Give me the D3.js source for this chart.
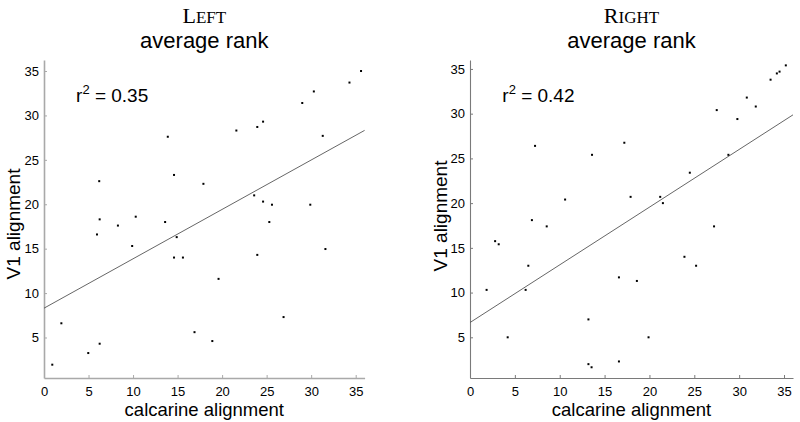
<!DOCTYPE html>
<html>
<head>
<meta charset="utf-8">
<script src="https://cdn.jsdelivr.net/npm/d3@7"></script>
<style>
  html, body { margin: 0; padding: 0; background: #fff; }
  svg { display: block; }
</style>
</head>
<body>
<svg id="chart" width="800" height="422"></svg>
<script>
// ---- data ----
const leftX  = [35.6, 34.3, 30.3, 29.0, 24.6, 23.95, 21.6, 13.9, 31.3, 6.2, 14.6, 17.9, 23.6, 24.6, 25.6, 29.9,
                10.3, 6.25, 8.3, 13.6, 5.95, 14.9, 25.3, 9.9, 14.6, 15.6, 23.95, 31.6, 19.6, 1.95, 26.9, 16.9,
                18.9, 6.25, 4.97, 0.93];
const leftY  = [35.0, 33.7, 32.7, 31.4, 29.3, 28.7, 28.3, 27.6, 27.7, 22.6, 23.3, 22.3, 21.0, 20.3, 19.95, 19.95,
                18.6, 18.3, 17.6, 18.0, 16.6, 16.3, 18.0, 15.3, 14.0, 14.0, 14.3, 14.96, 11.6, 6.6, 7.3, 5.6,
                4.6, 4.3, 3.25, 1.94];
const rightX = [35.2, 34.5, 34.2, 33.5, 30.85, 27.5, 31.85, 29.8, 7.25, 17.2, 13.6, 28.8, 24.5, 10.6, 17.9, 21.2,
                21.5, 6.9, 8.55, 27.2, 2.8, 3.2, 6.5, 23.9, 25.2, 16.6, 18.6, 1.85, 6.2, 13.2, 4.2, 19.9,
                13.2, 13.55, 16.6];
const rightY = [35.4, 34.7, 34.5, 33.8, 31.8, 30.4, 30.8, 29.4, 26.4, 26.75, 25.4, 25.4, 23.4, 20.4, 20.7, 20.7,
                20.0, 18.1, 17.4, 17.4, 15.75, 15.4, 13.0, 14.0, 13.0, 11.7, 11.3, 10.3, 10.3, 7.0, 5.0, 5.0,
                2.0, 1.65, 2.3];
const fitIntercept = [8.3, 6.65];
const fitSlope     = [0.556, 0.645];
const rSquared     = ["0.35", "0.42"];
const titleWords   = ["Left", "Right"];
const subTitle     = "average rank";
const xTicks = [0, 5, 10, 15, 20, 25, 30, 35];
const yTicks = [5, 10, 15, 20, 25, 30, 35];
const xLabel = "calcarine alignment";
const yLabel = "V1 alignment";

// ---- layout ----
const svg = d3.select("#chart");
const panels = [
  { xs: leftX,  ys: leftY,  x0: 44,  x1: 364.6, yDom: [0.44, 36.24], axisColor: "#a9a9a9", axisW: 1.6, ylabX: 13,  ylabY: 224 },
  { xs: rightX, ys: rightY, x0: 470, x1: 793,   yDom: [0.45, 36.0],  axisColor: "#7a7a7a", axisW: 1.1, ylabX: 440, ylabY: 216 }
];
const yTop = 60, yBot = 378;
const sans = "'Liberation Sans', Arial, sans-serif";
const serif = "'Liberation Serif', 'Times New Roman', serif";

panels.forEach((p, i) => {
  const x = d3.scaleLinear().domain([0, 36]).range([p.x0, p.x1]);
  const y = d3.scaleLinear().domain(p.yDom).range([yBot, yTop]);
  const g = svg.append("g");

  // axes
  const xAxis = d3.axisBottom(x).tickValues(xTicks).tickSizeInner(-3).tickSizeOuter(0).tickPadding(9);
  const yAxis = d3.axisLeft(y).tickValues(yTicks).tickSizeInner(-3).tickSizeOuter(0).tickPadding(5);
  const gx = g.append("g").attr("transform", `translate(0,${yBot})`).call(xAxis);
  const gy = g.append("g").attr("transform", `translate(${p.x0},0)`).call(yAxis);
  [gx, gy].forEach(a => {
    a.select(".domain").attr("stroke", p.axisColor).attr("stroke-width", p.axisW);
    a.selectAll(".tick line").attr("stroke", p.axisColor).attr("stroke-width", 1);
    a.selectAll(".tick text").attr("fill", "#000").attr("font-family", sans).attr("font-size", 13);
  });

  // regression line
  const b0 = fitIntercept[i], b1 = fitSlope[i];
  g.append("line")
    .attr("x1", x(0)).attr("y1", y(b0))
    .attr("x2", x(36)).attr("y2", y(b0 + b1 * 36))
    .attr("stroke", "#555").attr("stroke-width", 0.9);

  // points
  g.selectAll("rect.pt").data(p.xs.map((v, k) => [v, p.ys[k]])).enter()
    .append("rect").attr("class", "pt")
    .attr("x", d => x(d[0]) - 1).attr("y", d => y(d[1]) - 1)
    .attr("width", 2).attr("height", 2).attr("fill", "#000");

  // r^2 annotation
  const t = g.append("text").attr("x", x(3.6)).attr("y", 102)
    .attr("font-family", sans).attr("font-size", 19).attr("fill", "#000");
  t.append("tspan").text("r");
  t.append("tspan").attr("font-size", 13).attr("dy", -8).text("2");
  t.append("tspan").attr("dy", 8).text(" = " + rSquared[i]);

  // titles
  const cx = (p.x0 + p.x1) / 2;
  const word = titleWords[i];
  const tt = g.append("text").attr("x", cx).attr("y", 23).attr("text-anchor", "middle")
    .attr("font-family", serif).attr("fill", "#000");
  tt.append("tspan").attr("font-size", 22).text(word[0].toUpperCase());
  tt.append("tspan").attr("font-size", 17).text(word.slice(1).toUpperCase());
  g.append("text").attr("x", cx).attr("y", 48).attr("text-anchor", "middle")
    .attr("font-family", sans).attr("font-size", 22).attr("fill", "#000").text(subTitle);

  // axis labels
  g.append("text").attr("x", cx).attr("y", 416).attr("text-anchor", "middle")
    .attr("font-family", sans).attr("font-size", 18.5).attr("fill", "#000").text(xLabel);
  g.append("text").attr("transform", `translate(${p.ylabX},${p.ylabY}) rotate(-90)`)
    .attr("text-anchor", "middle").attr("dy", "0.35em")
    .attr("font-family", sans).attr("font-size", 19).attr("fill", "#000").text(yLabel);
});
</script>
</body>
</html>
